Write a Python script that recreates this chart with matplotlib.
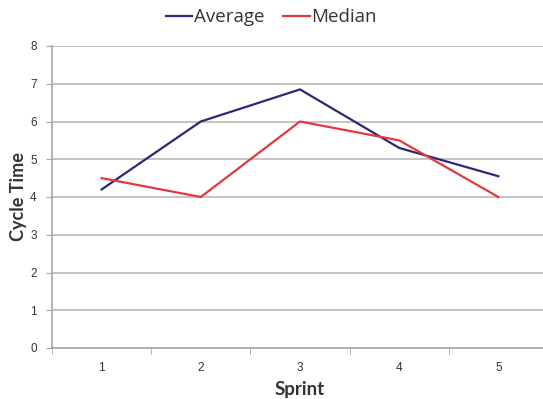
import matplotlib
matplotlib.use("Agg")
import matplotlib.pyplot as plt
from matplotlib.ticker import MultipleLocator

sprints = [1, 2, 3, 4, 5]
sprint_labels = ["1", "2", "3", "4", "5"]
average = [4.2, 6.0, 6.85, 5.3, 4.55]
median = [4.5, 4.0, 6.0, 5.5, 4.0]

fig = plt.figure(figsize=(5.43, 3.99), dpi=100)
ax = fig.add_axes([52 / 543, 1 - 348 / 399, 496 / 543, 302 / 399])

ax.plot(sprints, average, color="#2b2878", lw=1.6, label="Average")
ax.plot(sprints, median, color="#e0393e", lw=1.6, label="Median")

ax.set_xlim(0.5, 5.5)
ax.set_ylim(0, 8)
ax.yaxis.set_major_locator(MultipleLocator(1))
ax.set_xticks(sprints)
ax.set_xticklabels(sprint_labels)
ax.set_xticks([0.5, 1.5, 2.5, 3.5, 4.5, 5.5], minor=True)
ax.grid(axis="y", color="#bfbfbf", lw=1.3)
ax.set_axisbelow(True)

for s in ["top", "right"]:
    ax.spines[s].set_visible(False)
for s in ["left", "bottom"]:
    ax.spines[s].set_color("#a6a6a6")
    ax.spines[s].set_linewidth(1.2)

ax.tick_params(axis="y", length=4, color="#a6a6a6", labelsize=8.5,
               labelcolor="#333333", pad=7)
ax.tick_params(axis="x", which="major", length=0, labelsize=8.5,
               labelcolor="#333333", pad=10)
ax.tick_params(axis="x", which="minor", length=4, color="#a6a6a6")
for lab in ax.get_xticklabels() + ax.get_yticklabels():
    lab.set_family("Liberation Sans")

ax.set_xlabel("Sprint", fontsize=13.5, fontweight="bold", color="#333333",
              family="Lato", labelpad=5)
ax.set_ylabel("Cycle Time", fontsize=13, fontweight="bold", color="#333333",
              family="Lato", va="center")
ax.yaxis.set_label_coords(-0.068, 0.5)

leg = fig.legend(loc="upper center", bbox_to_anchor=(0.5, 1.022), ncol=2,
                 frameon=False, handlelength=1.4, handletextpad=0.1,
                 columnspacing=1.0, prop={"family": "Open Sans", "size": 13.5})
for t in leg.get_texts():
    t.set_color("#333333")

fig.savefig("out.png", dpi=100)
